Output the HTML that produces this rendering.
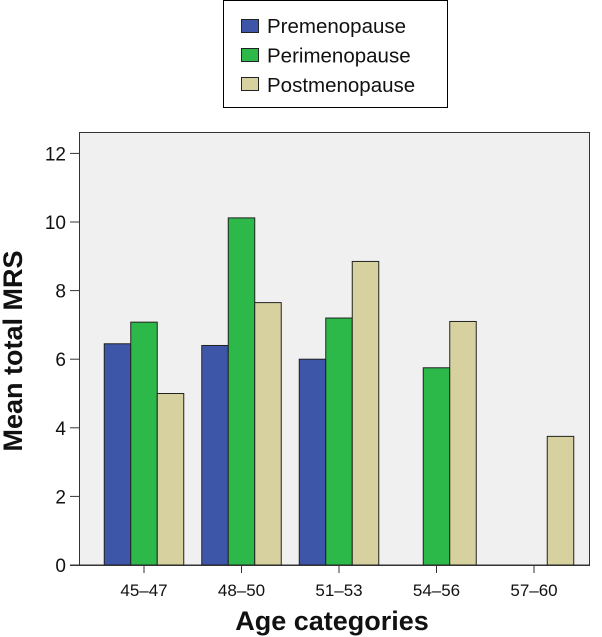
<!DOCTYPE html>
<html><head><meta charset="utf-8"><style>
body{margin:0;background:#fff;}
svg{display:block;font-family:"Liberation Sans",Arial,sans-serif;}
</style></head><body>
<svg id="chart" width="602" height="637" viewBox="0 0 602 637">
<g id="legend">
<rect x="223.5" y="0.5" width="224" height="107" fill="#fff" stroke="#000" stroke-width="1"/>
</g>
<rect x="79.5" y="132.5" width="510" height="432.5" fill="#f0f0f0" stroke="#333" stroke-width="1"/>
<g id="bars"></g>
<g id="axes"></g>
<text transform="translate(22,351) rotate(-90)" text-anchor="middle" font-size="27" font-weight="bold" fill="#111">Mean total MRS</text>
<text x="332" y="630" text-anchor="middle" font-size="27" font-weight="bold" fill="#111">Age categories</text>
</svg>
<script>
const categories = ["45–47","48–50","51–53","54–56","57–60"];
const seriesNames = ["Premenopause","Perimenopause","Postmenopause"];
const premenopause = [6.45, 6.4, 6.0, null, null];
const perimenopause = [7.08, 10.12, 7.2, 5.75, null];
const postmenopause = [5.0, 7.65, 8.85, 7.1, 3.75];
const yTicks = [0,2,4,6,8,10,12];
const colors = ["#3d56a8","#2db84a","#d6d19e"];
const NS="http://www.w3.org/2000/svg";
const y0=565, yPerUnit=34.3, x0=144, xStep=97.5, bw=26.5;
const y = v => y0 - v*yPerUnit;
const x = i => x0 + i*xStep;
const bars=document.getElementById('bars'), axes=document.getElementById('axes'), legend=document.getElementById('legend');
function mk(tag,attrs,parent){const e=document.createElementNS(NS,tag);for(const k in attrs)e.setAttribute(k,attrs[k]);parent.appendChild(e);return e;}
[premenopause,perimenopause,postmenopause].forEach((s,si)=>{
  s.forEach((v,i)=>{
    if(v==null) return;
    const r=mk('rect',{x:x(i)-1.5*bw+si*bw,y:y(v),width:bw,height:y0-y(v),fill:colors[si],stroke:"#222","stroke-width":1},bars);
    
    
  });
});
yTicks.forEach(t=>{
  mk('line',{x1:70,x2:79,y1:y(t),y2:y(t),stroke:"#333"},axes);
  const tx=mk('text',{x:66,y:y(t)+7,"text-anchor":"end","font-size":"19",fill:"#111"},axes);
  tx.textContent=t;
  
  
});
mk('line',{x1:70,x2:590,y1:y0+0.5,y2:y0+0.5,stroke:"#333"},axes);
categories.forEach((c,i)=>{
  mk('line',{x1:x(i),x2:x(i),y1:y0,y2:y0+8,stroke:"#333"},axes);
  const tx=mk('text',{x:x(i),y:596,"text-anchor":"middle","font-size":"17",fill:"#111"},axes);
  tx.textContent=c;
  
  
});
seriesNames.forEach((n,i)=>{
  const g=mk('g',{},legend);
  
  
  mk('rect',{x:241.5,y:19.5+i*29,width:17,height:13,fill:colors[i],stroke:"#222"},g);
  const t=mk('text',{x:267,y:33+i*29.5,"font-size":"20.5",fill:"#111"},g);
  t.textContent=n;
});
</script>
</body></html>
